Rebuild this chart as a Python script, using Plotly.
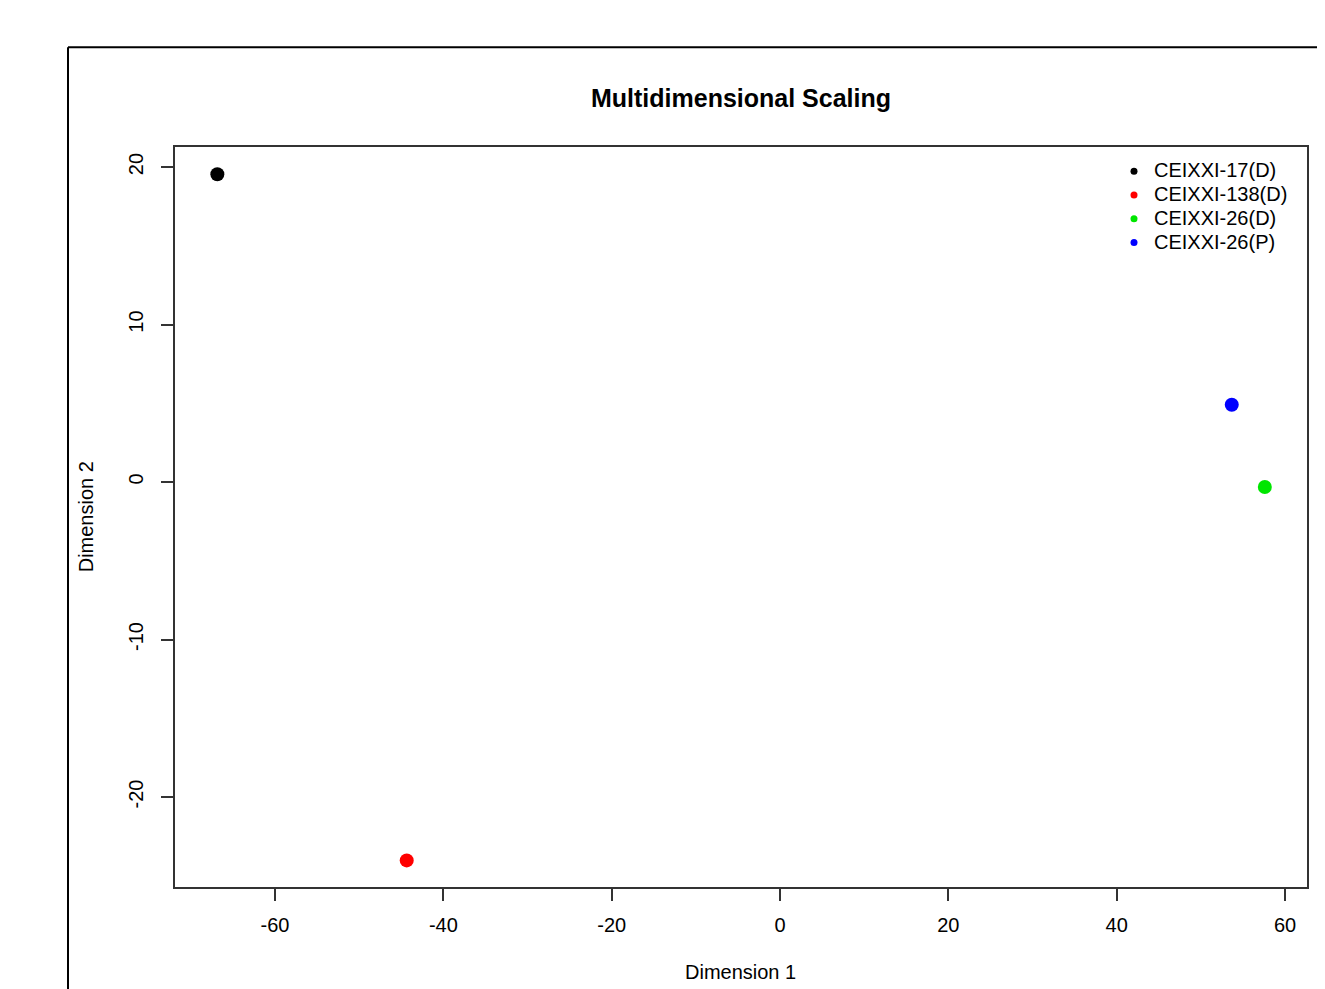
import plotly.graph_objects as go

samples = ["CEIXXI-17(D)", "CEIXXI-138(D)", "CEIXXI-26(D)", "CEIXXI-26(P)"]
dim1 = [-66.85, -44.35, 57.6, 53.67]
dim2 = [19.54, -24.02, -0.32, 4.91]
colors = ["#000000", "#ff0000", "#00e600", "#0000ff"]
x_ticks = [-60, -40, -20, 0, 20, 40, 60]
x_tick_labels = ["-60", "-40", "-20", "0", "20", "40", "60"]
y_ticks = [-20, -10, 0, 10, 20]
y_tick_labels = ["-20", "-10", "0", "10", "20"]

W, H = 1325, 989
OFF = 8  # page body margin
L, R, T, B = 175 - OFF, 1307 - OFF, 146.7 - OFF, 886.7 - OFF

def px(x):
    return (x - OFF - L) / (R - L)

def py(y):
    return (B - (y - OFF)) / (B - T)

fig = go.Figure()
for name, xv, yv, c in zip(samples, dim1, dim2, colors):
    fig.add_trace(go.Scatter(x=[xv], y=[yv], mode="markers", showlegend=False,
                             marker=dict(size=14, color=c, line=dict(width=0))))
for name, c in zip(samples, colors):
    fig.add_trace(go.Scatter(x=[None], y=[None], mode="markers",
                             name='<span style="font-size:20px">' + name + '</span>',
                             marker=dict(size=7, color=c, line=dict(width=0))))

axis_common = dict(showgrid=False, zeroline=False, showline=True, mirror=True,
                   linecolor="#333333", linewidth=1.5, ticks="outside", ticklen=12,
                   tickcolor="#333333", tickwidth=1.5,
                   tickfont=dict(family="Liberation Sans", size=20, color="black"))

fig.update_layout(
    width=W, height=H,
    margin=dict(l=L, r=W - R, t=T, b=H - B, pad=0),
    paper_bgcolor="white", plot_bgcolor="white",
    font=dict(family="Liberation Sans", color="black"),
    xaxis=dict(range=[-71.88, 62.61], tickvals=x_ticks, ticktext=x_tick_labels,
               ticklabelstandoff=7, **axis_common),
    yaxis=dict(range=[-25.71, 21.27], tickvals=y_ticks, ticktext=y_tick_labels,
               tickangle=-90, ticklabelstandoff=10, **axis_common),
    showlegend=True,
    legend=dict(x=px(1114), y=py(154), xanchor="left", yanchor="top",
                bgcolor="rgba(0,0,0,0)", borderwidth=0,
                font=dict(family="Liberation Sans", size=16, color="black"),
                tracegroupgap=0),
    annotations=[
        dict(text="<b>Multidimensional Scaling</b>", x=px(741), y=py(98), xref="paper", yref="paper",
             showarrow=False, font=dict(size=25, family="Liberation Sans", color="black"),
             xanchor="center", yanchor="middle"),
        dict(text="Dimension 1", x=px(740), y=py(972), xref="paper", yref="paper",
             showarrow=False, font=dict(size=20, family="Liberation Sans", color="black"),
             xanchor="center", yanchor="middle"),
        dict(text="Dimension 2", x=px(86), y=py(517), xref="paper", yref="paper",
             showarrow=False, textangle=-90, font=dict(size=20, family="Liberation Sans", color="black"),
             xanchor="center", yanchor="middle"),
    ],
    shapes=[
        dict(type="line", xref="paper", yref="paper", x0=px(68), x1=px(68), y0=py(47), y1=py(1000),
             line=dict(color="black", width=2)),
        dict(type="line", xref="paper", yref="paper", x0=px(68), x1=px(1340), y0=py(47), y1=py(47),
             line=dict(color="black", width=2)),
    ],
)

fig.write_html("out.html")
